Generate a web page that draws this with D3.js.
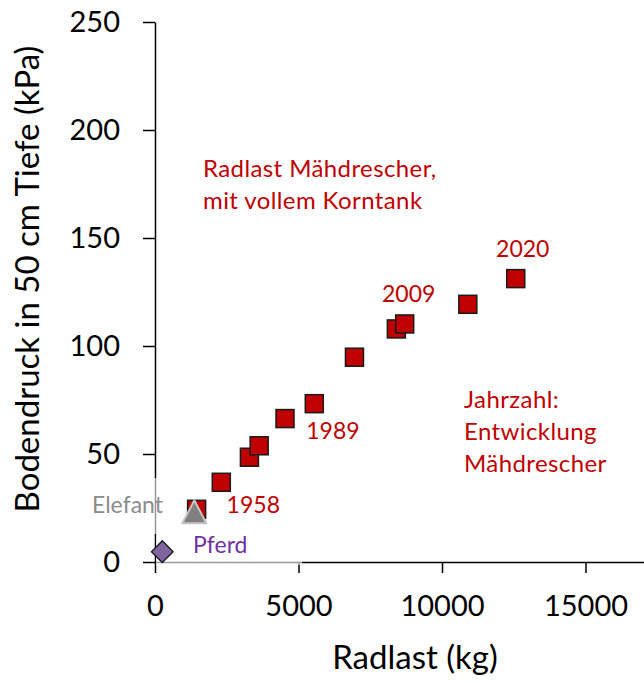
<!DOCTYPE html>
<html><head><meta charset="utf-8">
<script src="https://cdn.jsdelivr.net/npm/d3@7/dist/d3.min.js"></script>
<style>body{margin:0;background:#fff}svg{display:block;font-family:Lato,"Open Sans",sans-serif}</style>
</head><body><svg id="c" width="644" height="683"></svg>
<script>
// Mähdrescher (combine harvesters)
const radlast = [1450, 2310, 3290, 3630, 4530, 5550, 6950, 8410, 8700, 10900, 12570];
const bodendruck = [24.4, 36.9, 48.5, 53.8, 66.4, 73.3, 94.8, 107.9, 110.2, 119.3, 131.2];
const yearLabels = ["1958", "1989", "2009", "2020"];
const yearIndex = [0, 5, 8, 10];
// animals
const elefant = [1370, 23];
const pferd = [254, 4.8];
const xTicks = [0, 5000, 10000, 15000];
const yTicks = [0, 50, 100, 150, 200, 250];

const svg = d3.select("#c");
const x = d3.scaleLinear().domain([0, 20000]).range([155, 729]);
const y = d3.scaleLinear().domain([0, 250]).range([562, 22]);

const gx = svg.append("g").attr("transform", `translate(0,${y(0)})`)
  .call(d3.axisBottom(x).tickValues(xTicks).tickSize(11).tickPadding(22).tickSizeOuter(0).tickFormat(d3.format("d")));
const gy = svg.append("g").attr("transform", `translate(${x(0)},0)`)
  .call(d3.axisLeft(y).tickValues(yTicks).tickSize(12).tickPadding(23).tickSizeOuter(0));
[gx, gy].forEach(g => {
  g.select(".domain").attr("stroke", "#000").attr("stroke-width", 1.5);
  g.selectAll(".tick line").attr("stroke", "#000").attr("stroke-width", 1.5);
  g.selectAll(".tick text").attr("font-size", 29).attr("fill", "#000").attr("font-family", "Lato");
});

// semi-transparent label boxes over the axes (as in the original)
svg.append("rect").attr("x", 84).attr("y", 478).attr("width", 73).attr("height", 56)
  .attr("fill", "#fff").attr("opacity", 0.6);
svg.append("rect").attr("x", 156).attr("y", 535).attr("width", 146).attr("height", 30)
  .attr("fill", "#fff").attr("opacity", 0.6);

// axis titles
svg.append("text").attr("transform", `translate(39,${(y(0)+y(250))/2-13}) rotate(-90)`)
  .attr("text-anchor", "middle").attr("font-size", 33).text("Bodendruck in 50 cm Tiefe (kPa)");
svg.append("text").attr("x", 415).attr("y", 669).attr("text-anchor", "middle")
  .attr("font-size", 33).text("Radlast (kg)");

// markers
const pts = radlast.map((r, i) => [r, bodendruck[i]]);
const s = 18;
svg.append("g").selectAll("rect").data(pts).join("rect")
  .attr("x", d => x(d[0]) - s/2).attr("y", d => y(d[1]) - s/2)
  .attr("width", s).attr("height", s)
  .attr("fill", "#C00000").attr("stroke", "#1a1a1a").attr("stroke-width", 1.5);

const ex = x(elefant[0]), ey = y(elefant[1]);
svg.append("path")
  .attr("d", d3.line()([[ex, ey - 12], [ex + 12, ey + 11], [ex - 12, ey + 11]]) + "Z")
  .attr("fill", "#808080").attr("stroke", "#c4c4c4").attr("stroke-width", 2).attr("stroke-linejoin", "round");

svg.append("path")
  .attr("d", d3.symbol(d3.symbolSquare, 235)())
  .attr("transform", `translate(${x(pferd[0])},${y(pferd[1])}) rotate(45)`)
  .attr("fill", "#8064A2").attr("stroke", "#1a1a1a").attr("stroke-width", 1.3);

// labels
const red = "#C00000";
const off = [[30, 4, "start"], [-8, 35, "start"], [4, -22, "middle"], [7, -22, "middle"]];
yearLabels.forEach((t, i) => {
  const d = pts[yearIndex[i]];
  svg.append("text").attr("x", x(d[0]) + off[i][0]).attr("y", y(d[1]) + off[i][1])
    .attr("text-anchor", off[i][2]).attr("font-size", 23).attr("fill", red).text(t);
});
svg.append("text").attr("x", 163).attr("y", 513)
  .attr("text-anchor", "end").attr("font-size", 23).attr("fill", "#8c8c8c").text("Elefant");
svg.append("text").attr("x", 193).attr("y", 553)
  .attr("text-anchor", "start").attr("font-size", 23).attr("fill", "#7030A0").text("Pferd");

const note1 = ["Radlast Mähdrescher,", "mit vollem Korntank"];
note1.forEach((t, i) => svg.append("text").attr("x", 203).attr("y", 177 + i*32)
  .attr("font-size", 24).attr("letter-spacing", 0.4).attr("fill", red).text(t));
const note2 = ["Jahrzahl:", "Entwicklung", "Mähdrescher"];
note2.forEach((t, i) => svg.append("text").attr("x", 464).attr("y", 408 + i*32)
  .attr("font-size", 24).attr("letter-spacing", 0.4).attr("fill", red).text(t));
</script></body></html>
